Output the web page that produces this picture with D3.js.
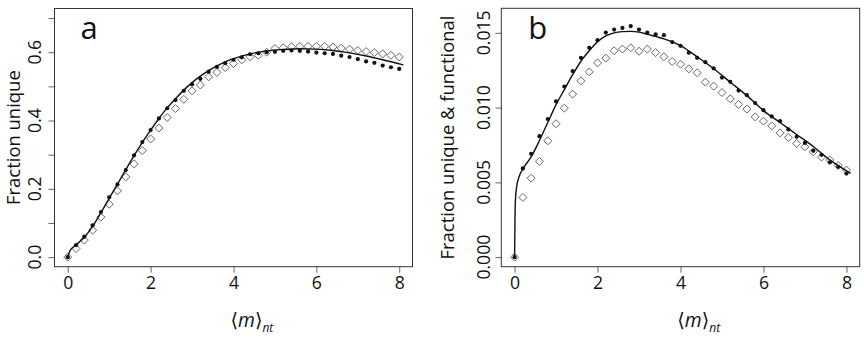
<!DOCTYPE html>
<html>
<head>
<meta charset="utf-8">
<script src="https://cdn.jsdelivr.net/npm/d3@7"></script>
<style>
  body { margin: 0; background: #fff; }
  svg text { font-family: "Open Sans", "DejaVu Sans", sans-serif; fill: #111; }
</style>
</head>
<body>
<svg id="chart" width="864" height="340"></svg>
<script>
// ---------- data ----------
const xPoints = [0,0.2,0.4,0.6,0.8,1.0,1.2,1.4,1.6,1.8,2.0,2.2,2.4,2.6,2.8,3.0,3.2,3.4,3.6,3.8,
                 4.0,4.2,4.4,4.6,4.8,5.0,5.2,5.4,5.6,5.8,6.0,6.2,6.4,6.6,6.8,7.0,7.2,7.4,7.6,7.8,8.0];

// Panel a: fraction unique
const aFilled = [0,0.035,0.060,0.093,0.132,0.175,0.213,0.255,0.298,0.337,0.372,0.406,0.436,0.460,0.487,0.506,0.522,0.543,0.557,0.568,
                 0.578,0.585,0.594,0.597,0.600,0.601,0.604,0.605,0.604,0.602,0.599,0.597,0.595,0.590,0.586,0.580,0.573,0.569,0.561,0.556,0.551];
const aOpen   = [0,0.025,0.050,0.079,0.117,0.155,0.194,0.235,0.273,0.312,0.346,0.378,0.409,0.435,0.462,0.487,0.504,0.528,0.541,0.555,
                 0.567,0.578,0.587,0.591,0.600,0.611,0.613,0.616,0.617,0.617,0.617,0.617,0.615,0.612,0.609,0.605,0.602,0.599,0.595,0.591,0.586];
const aLineX  = [0,0.05,0.1,0.2,0.4,0.6,0.8,1.0,1.2,1.4,1.6,1.8,2.0,2.2,2.4,2.6,2.8,3.0,3.2,3.4,3.6,3.8,4.0,4.4,4.8,5.2,5.6,6.0,6.4,6.8,7.2,7.6,8.1];
const aLineY  = [0,0.018,0.026,0.036,0.058,0.090,0.130,0.172,0.214,0.256,0.297,0.336,0.372,0.406,0.437,0.464,0.489,0.511,0.530,0.546,0.560,0.572,0.581,0.595,0.604,0.608,0.610,0.609,0.605,0.598,0.589,0.578,0.563];

// Panel b: fraction unique & functional
const bFilled = [0,0.00593,0.00691,0.00809,0.00923,0.01041,0.01141,0.01244,0.01333,0.01400,0.01451,0.01502,0.01522,0.01533,0.01545,0.01522,0.01502,0.01489,0.01484,0.01438,
                 0.01413,0.01366,0.01333,0.01304,0.01262,0.01201,0.01172,0.01114,0.01083,0.01030,0.00983,0.00941,0.00909,0.00854,0.00805,0.00764,0.00711,0.00684,0.00633,0.00604,0.00559];
const bOpen   = [0,0.00399,0.00528,0.00640,0.00778,0.00892,0.00996,0.01090,0.01179,0.01239,0.01299,0.01331,0.01380,0.01391,0.01400,0.01377,0.01391,0.01368,0.01340,0.01308,
                 0.01290,0.01259,0.01233,0.01170,0.01143,0.01101,0.01059,0.01021,0.00990,0.00938,0.00909,0.00878,0.00831,0.00800,0.00760,0.00738,0.00704,0.00669,0.00649,0.00613,0.00582];
const bLineX  = [0,0.01,0.02,0.05,0.1,0.2,0.4,0.6,0.8,1.0,1.2,1.4,1.6,1.8,2.0,2.2,2.4,2.6,2.8,3.0,3.2,3.6,4.0,4.4,4.8,5.2,5.6,6.0,6.4,6.8,7.2,7.6,8.1];
const bLineY  = [0,0.0025,0.0038,0.0047,0.0053,0.0059,0.0067,0.0078,0.0090,0.0102,0.0112,0.0122,0.0131,0.0138,0.0144,0.0148,0.0150,0.01508,0.0151,0.01505,0.0149,0.0146,0.01415,0.0134,0.0126,0.0117,0.0108,0.0098,0.0090,0.0082,0.0074,0.0065,0.0056];

// ticks
const xTicks = [0,2,4,6,8];
const aYTicks = [0,0.1,0.2,0.3,0.4,0.5,0.6,0.7];
const aYLabels = [0,0.2,0.4,0.6];
const bYTicks = [0,0.005,0.010,0.015];
const bYLabels = [0,0.005,0.010,0.015];

const svg = d3.select("#chart");

// font size that makes a string span a target width
function fitSize(str, target, italic) {
  const t = svg.append("text").style("font-size", "100px").text(str);
  if (italic) t.style("font-style", "italic");
  const w = t.node().getComputedTextLength();
  t.remove();
  return 100 * target / w;
}
const tickFS = fitSize("0.015", 45);
const titleFS = fitSize("Fraction unique & functional", 244);
const xtFS = fitSize("\u27E8m\u27E9", 33);

function panel(cfg) {
  const g = svg.append("g");
  const x = d3.scaleLinear().domain([-0.32, 8.32]).range([cfg.left, cfg.right]);
  const ypad = (cfg.ylim[1] - cfg.ylim[0]) * 0.04;
  const y = d3.scaleLinear().domain([cfg.ylim[0] - ypad, cfg.ylim[1] + ypad]).range([cfg.bottom, cfg.top]);

  // x axis ticks
  const xa = d3.axisBottom(x).tickValues(xTicks).tickSize(6).tickSizeOuter(0).tickFormat(d3.format("d"));
  const gx = g.append("g").attr("transform", `translate(0,${cfg.bottom})`).call(xa);
  gx.select(".domain").remove();
  gx.selectAll(".tick line").attr("stroke", "#666");
  gx.selectAll(".tick text").attr("y", 10).attr("dy", "0.71em").style("font-size", tickFS + "px").attr("fill", "#111");

  // y axis ticks
  const ya = d3.axisLeft(y).tickValues(cfg.yTicks).tickSize(6).tickSizeOuter(0).tickFormat(() => "");
  const gy = g.append("g").attr("transform", `translate(${cfg.left},0)`).call(ya);
  gy.select(".domain").remove();
  gy.selectAll(".tick line").attr("stroke", "#666");
  g.selectAll(".ylab").data(cfg.yLabels).enter().append("text")
    .attr("transform", d => `translate(${cfg.left - cfg.ylabOff},${y(d)}) rotate(-90)`)
    .attr("text-anchor", "middle")
    .style("font-size", tickFS + "px")
    .text(d => cfg.fmt(d));

  // box
  g.append("rect").attr("x", cfg.left).attr("y", cfg.top)
    .attr("width", cfg.right - cfg.left).attr("height", cfg.bottom - cfg.top)
    .attr("fill", "none").attr("stroke", "#333").attr("stroke-width", 1);

  // y title
  g.append("text")
    .attr("transform", `translate(${cfg.left - cfg.titleOff},${(cfg.top + cfg.bottom) / 2}) rotate(-90)`)
    .attr("text-anchor", "middle").style("font-size", titleFS + "px").text(cfg.ytitle);

  // x title  <m>_nt
  const xt = g.append("text").attr("x", cfg.left + 176).attr("y", 327).style("font-size", xtFS + "px");
  xt.append("tspan").text("\u27E8");
  xt.append("tspan").style("font-style", "italic").text("m");
  xt.append("tspan").text("\u27E9");
  xt.append("tspan").style("font-style", "italic").style("font-size", (xtFS * 0.62) + "px").attr("dy", 5).text("nt");

  // panel letter
  g.append("text").attr("x", cfg.left + cfg.letterOff).attr("y", 39).style("font-size", "31px").text(cfg.letter);

  // open diamonds
  const r = 4;
  g.selectAll(".dia").data(xPoints.map((d, i) => [d, cfg.open[i]])).enter().append("path")
    .attr("d", d => `M${x(d[0])},${y(d[1]) - r}L${x(d[0]) + r},${y(d[1])}L${x(d[0])},${y(d[1]) + r}L${x(d[0]) - r},${y(d[1])}Z`)
    .attr("fill", "none").attr("stroke", "#666").attr("stroke-width", 1);

  // theory line
  const line = d3.line().x(d => x(d[0])).y(d => y(d[1])).curve(d3.curveMonotoneX);
  g.append("path").datum(cfg.lineX.map((d, i) => [d, cfg.lineY[i]]))
    .attr("d", line).attr("fill", "none").attr("stroke", "#111").attr("stroke-width", 1.4);

  // filled dots
  g.selectAll(".dot").data(xPoints.map((d, i) => [d, cfg.filled[i]])).enter().append("circle")
    .attr("cx", d => x(d[0])).attr("cy", d => y(d[1])).attr("r", 2.1).attr("fill", "#111");
}

panel({
  left: 54.5, right: 412.5, top: 8.5, bottom: 266.7,
  ylim: [0, 0.7], yTicks: aYTicks, yLabels: aYLabels, fmt: d3.format(".1f"),
  ylabOff: 14, titleOff: 35, ytitle: "Fraction unique",
  filled: aFilled, open: aOpen, lineX: aLineX, lineY: aLineY,
  letter: "a", letterOff: 26
});
panel({
  left: 501.3, right: 859.7, top: 8.3, bottom: 266.7,
  ylim: [0, 0.016], yTicks: bYTicks, yLabels: bYLabels, fmt: d3.format(".3f"),
  ylabOff: 11.5, titleOff: 47, ytitle: "Fraction unique & functional",
  filled: bFilled, open: bOpen, lineX: bLineX, lineY: bLineY,
  letter: "b", letterOff: 27
});
</script>
</body>
</html>
